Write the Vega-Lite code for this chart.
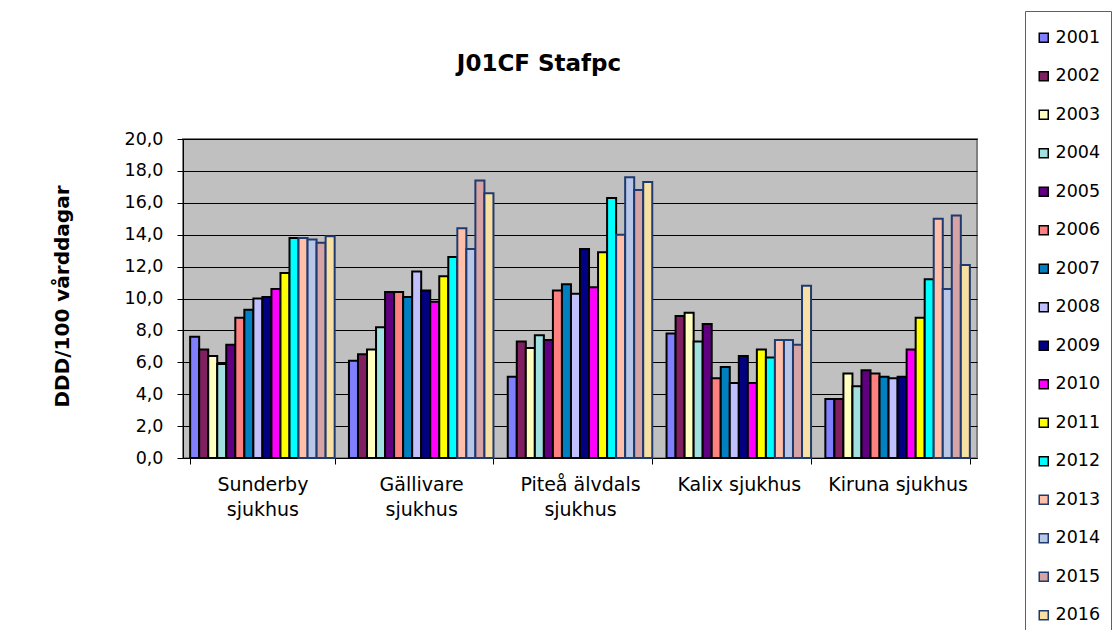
{
  "$schema": "https://vega.github.io/schema/vega-lite/v6.json",
  "width": 794,
  "height": 319,
  "autosize": {"type": "none"},
  "padding": {"left": 183, "top": 139, "right": 138, "bottom": 172},
  "background": "white",
  "title": {"text": "J01CF Stafpc", "font": "DejaVu Sans", "fontSize": 23, "fontWeight": "bold", "color": "black", "anchor": "middle", "frame": "group", "dx": -41, "offset": 0, "dy": 83, "baseline": "alphabetic"},
  "data": {"values": [
    {"sjukhus": "Sunderby sjukhus", "ar": "2001", "varde": 7.6},
    {"sjukhus": "Sunderby sjukhus", "ar": "2002", "varde": 6.8},
    {"sjukhus": "Sunderby sjukhus", "ar": "2003", "varde": 6.4},
    {"sjukhus": "Sunderby sjukhus", "ar": "2004", "varde": 5.9},
    {"sjukhus": "Sunderby sjukhus", "ar": "2005", "varde": 7.1},
    {"sjukhus": "Sunderby sjukhus", "ar": "2006", "varde": 8.8},
    {"sjukhus": "Sunderby sjukhus", "ar": "2007", "varde": 9.3},
    {"sjukhus": "Sunderby sjukhus", "ar": "2008", "varde": 10.0},
    {"sjukhus": "Sunderby sjukhus", "ar": "2009", "varde": 10.1},
    {"sjukhus": "Sunderby sjukhus", "ar": "2010", "varde": 10.6},
    {"sjukhus": "Sunderby sjukhus", "ar": "2011", "varde": 11.6},
    {"sjukhus": "Sunderby sjukhus", "ar": "2012", "varde": 13.8},
    {"sjukhus": "Sunderby sjukhus", "ar": "2013", "varde": 13.8},
    {"sjukhus": "Sunderby sjukhus", "ar": "2014", "varde": 13.7},
    {"sjukhus": "Sunderby sjukhus", "ar": "2015", "varde": 13.5},
    {"sjukhus": "Sunderby sjukhus", "ar": "2016", "varde": 13.9},
    {"sjukhus": "Gällivare sjukhus", "ar": "2001", "varde": 6.1},
    {"sjukhus": "Gällivare sjukhus", "ar": "2002", "varde": 6.5},
    {"sjukhus": "Gällivare sjukhus", "ar": "2003", "varde": 6.8},
    {"sjukhus": "Gällivare sjukhus", "ar": "2004", "varde": 8.2},
    {"sjukhus": "Gällivare sjukhus", "ar": "2005", "varde": 10.4},
    {"sjukhus": "Gällivare sjukhus", "ar": "2006", "varde": 10.4},
    {"sjukhus": "Gällivare sjukhus", "ar": "2007", "varde": 10.1},
    {"sjukhus": "Gällivare sjukhus", "ar": "2008", "varde": 11.7},
    {"sjukhus": "Gällivare sjukhus", "ar": "2009", "varde": 10.5},
    {"sjukhus": "Gällivare sjukhus", "ar": "2010", "varde": 9.8},
    {"sjukhus": "Gällivare sjukhus", "ar": "2011", "varde": 11.4},
    {"sjukhus": "Gällivare sjukhus", "ar": "2012", "varde": 12.6},
    {"sjukhus": "Gällivare sjukhus", "ar": "2013", "varde": 14.4},
    {"sjukhus": "Gällivare sjukhus", "ar": "2014", "varde": 13.1},
    {"sjukhus": "Gällivare sjukhus", "ar": "2015", "varde": 17.4},
    {"sjukhus": "Gällivare sjukhus", "ar": "2016", "varde": 16.6},
    {"sjukhus": "Piteå älvdals sjukhus", "ar": "2001", "varde": 5.1},
    {"sjukhus": "Piteå älvdals sjukhus", "ar": "2002", "varde": 7.3},
    {"sjukhus": "Piteå älvdals sjukhus", "ar": "2003", "varde": 6.9},
    {"sjukhus": "Piteå älvdals sjukhus", "ar": "2004", "varde": 7.7},
    {"sjukhus": "Piteå älvdals sjukhus", "ar": "2005", "varde": 7.4},
    {"sjukhus": "Piteå älvdals sjukhus", "ar": "2006", "varde": 10.5},
    {"sjukhus": "Piteå älvdals sjukhus", "ar": "2007", "varde": 10.9},
    {"sjukhus": "Piteå älvdals sjukhus", "ar": "2008", "varde": 10.3},
    {"sjukhus": "Piteå älvdals sjukhus", "ar": "2009", "varde": 13.1},
    {"sjukhus": "Piteå älvdals sjukhus", "ar": "2010", "varde": 10.7},
    {"sjukhus": "Piteå älvdals sjukhus", "ar": "2011", "varde": 12.9},
    {"sjukhus": "Piteå älvdals sjukhus", "ar": "2012", "varde": 16.3},
    {"sjukhus": "Piteå älvdals sjukhus", "ar": "2013", "varde": 14.0},
    {"sjukhus": "Piteå älvdals sjukhus", "ar": "2014", "varde": 17.6},
    {"sjukhus": "Piteå älvdals sjukhus", "ar": "2015", "varde": 16.8},
    {"sjukhus": "Piteå älvdals sjukhus", "ar": "2016", "varde": 17.3},
    {"sjukhus": "Kalix sjukhus", "ar": "2001", "varde": 7.8},
    {"sjukhus": "Kalix sjukhus", "ar": "2002", "varde": 8.9},
    {"sjukhus": "Kalix sjukhus", "ar": "2003", "varde": 9.1},
    {"sjukhus": "Kalix sjukhus", "ar": "2004", "varde": 7.3},
    {"sjukhus": "Kalix sjukhus", "ar": "2005", "varde": 8.4},
    {"sjukhus": "Kalix sjukhus", "ar": "2006", "varde": 5.0},
    {"sjukhus": "Kalix sjukhus", "ar": "2007", "varde": 5.7},
    {"sjukhus": "Kalix sjukhus", "ar": "2008", "varde": 4.7},
    {"sjukhus": "Kalix sjukhus", "ar": "2009", "varde": 6.4},
    {"sjukhus": "Kalix sjukhus", "ar": "2010", "varde": 4.7},
    {"sjukhus": "Kalix sjukhus", "ar": "2011", "varde": 6.8},
    {"sjukhus": "Kalix sjukhus", "ar": "2012", "varde": 6.3},
    {"sjukhus": "Kalix sjukhus", "ar": "2013", "varde": 7.4},
    {"sjukhus": "Kalix sjukhus", "ar": "2014", "varde": 7.4},
    {"sjukhus": "Kalix sjukhus", "ar": "2015", "varde": 7.1},
    {"sjukhus": "Kalix sjukhus", "ar": "2016", "varde": 10.8},
    {"sjukhus": "Kiruna sjukhus", "ar": "2001", "varde": 3.7},
    {"sjukhus": "Kiruna sjukhus", "ar": "2002", "varde": 3.7},
    {"sjukhus": "Kiruna sjukhus", "ar": "2003", "varde": 5.3},
    {"sjukhus": "Kiruna sjukhus", "ar": "2004", "varde": 4.5},
    {"sjukhus": "Kiruna sjukhus", "ar": "2005", "varde": 5.5},
    {"sjukhus": "Kiruna sjukhus", "ar": "2006", "varde": 5.3},
    {"sjukhus": "Kiruna sjukhus", "ar": "2007", "varde": 5.1},
    {"sjukhus": "Kiruna sjukhus", "ar": "2008", "varde": 5.0},
    {"sjukhus": "Kiruna sjukhus", "ar": "2009", "varde": 5.1},
    {"sjukhus": "Kiruna sjukhus", "ar": "2010", "varde": 6.8},
    {"sjukhus": "Kiruna sjukhus", "ar": "2011", "varde": 8.8},
    {"sjukhus": "Kiruna sjukhus", "ar": "2012", "varde": 11.2},
    {"sjukhus": "Kiruna sjukhus", "ar": "2013", "varde": 15.0},
    {"sjukhus": "Kiruna sjukhus", "ar": "2014", "varde": 10.6},
    {"sjukhus": "Kiruna sjukhus", "ar": "2015", "varde": 15.2},
    {"sjukhus": "Kiruna sjukhus", "ar": "2016", "varde": 12.1}
  ]},
  "mark": {"type": "bar", "strokeWidth": 2, "fillOpacity": 1, "strokeOpacity": 1},
  "encoding": {
    "x": {
      "field": "sjukhus", "type": "nominal", "sort": null,
      "scale": {"paddingInner": 0.09, "paddingOuter": 0.045},
      "axis": {
        "title": null, "labelAngle": 0, "tickBand": "extent", "grid": false,
        "labelFont": "DejaVu Sans", "labelFontSize": 19, "labelColor": "black",
        "labelLineHeight": 25, "labelPadding": 11, "tickSize": 6,
        "labelExpr": "datum.label == 'Sunderby sjukhus' ? ['Sunderby', 'sjukhus'] : datum.label == 'Gällivare sjukhus' ? ['Gällivare', 'sjukhus'] : datum.label == 'Piteå älvdals sjukhus' ? ['Piteå älvdals', 'sjukhus'] : datum.label"
      }
    },
    "xOffset": {"field": "ar", "type": "nominal", "scale": {"paddingInner": 0, "paddingOuter": 0}},
    "y": {
      "field": "varde", "type": "quantitative",
      "scale": {"domain": [0, 20], "nice": false},
      "axis": {
        "title": "DDD/100 vårddagar",
        "titleFont": "DejaVu Sans", "titleFontSize": 20, "titleFontWeight": "bold", "titleColor": "black",
        "titleX": -121, "titleY": 157, "titleAngle": -90, "titleAlign": "center", "titleBaseline": "middle",
        "values": [0, 2, 4, 6, 8, 10, 12, 14, 16, 18, 20],
        "labelExpr": "replace(format(datum.value, '.1f'), '.', ',')",
        "labelFont": "DejaVu Sans", "labelFontSize": 17.5, "labelColor": "black",
        "labelPadding": 14, "tickSize": 6, "grid": true
      }
    },
    "fill": {
      "field": "ar", "type": "nominal",
      "scale": {
        "domain": ["2001","2002","2003","2004","2005","2006","2007","2008","2009","2010","2011","2012","2013","2014","2015","2016"],
        "range": ["#8080FF","#802060","#FFFFC0","#A0E0E0","#600080","#FF8080","#0080C0","#C0C0FF","#000080","#FF00FF","#FFFF00","#00FFFF","#FFBFA8","#B8C6E8","#D6A4A4","#F8E0A4"]
      },
      "legend": {"title": " "}
    },
    "stroke": {
      "field": "ar", "type": "nominal",
      "scale": {
        "domain": ["2001","2002","2003","2004","2005","2006","2007","2008","2009","2010","2011","2012","2013","2014","2015","2016"],
        "range": ["#000000","#000000","#000000","#000000","#000000","#000000","#000000","#000000","#000000","#000000","#000000","#000000","#1F3A6E","#1F3A6E","#1F3A6E","#1F3A6E"]
      },
      "legend": {"title": " "}
    }
  },
  "config": {
    "view": {"fill": "#C0C0C0", "stroke": "#808080", "strokeWidth": 2},
    "axis": {"domainColor": "black", "tickColor": "black", "gridColor": "black", "gridOpacity": 1, "gridWidth": 1, "domainWidth": 1, "tickWidth": 1},
    "legend": {
      "orient": "none", "legendX": 842, "legendY": -128,
      "padding": 10, "strokeColor": "#606060", "fillColor": "white",
      "titleFontSize": 8, "titlePadding": 0,
      "symbolType": "square", "symbolSize": 81, "symbolStrokeWidth": 1.5, "symbolOpacity": 1,
      "labelFont": "DejaVu Sans", "labelFontSize": 17.5, "labelColor": "black",
      "labelOffset": 3, "rowPadding": 19.5
    }
  }
}
